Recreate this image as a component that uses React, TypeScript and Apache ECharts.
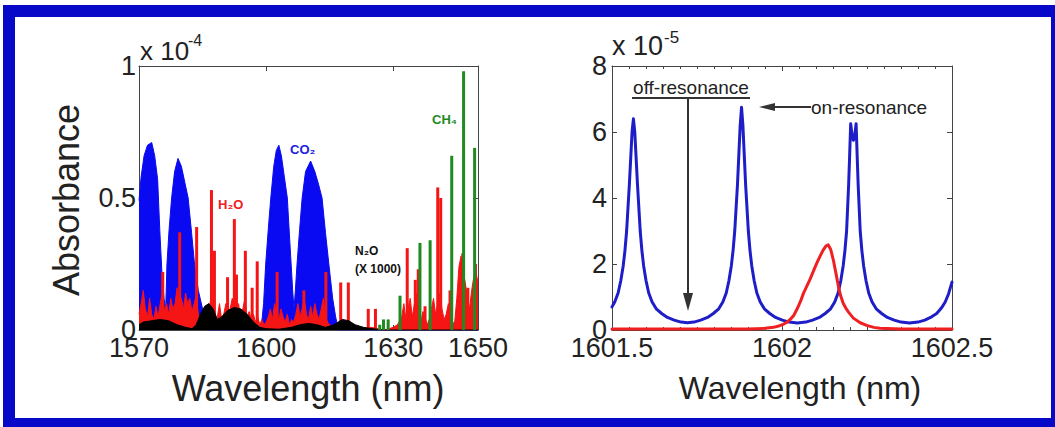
import React, { useEffect, useRef } from "react";
import * as echarts from "echarts";

// ---------- Left panel (x in nm, y in units of 1e-4) ----------
const leftXLabels = [1570, 1600, 1630, 1650];
const leftXInnerTicks = [1600, 1630];

const co2Envelope: [number, number][] = [
  [1570, 0.49], [1570.5, 0.58], [1571.2, 0.66], [1572, 0.7], [1573, 0.71], [1573.7, 0.66],
  [1574.4, 0.57], [1574.9, 0.38], [1575.4, 0.22], [1575.9, 0.12], [1576.3, 0.08],
  [1576.6, 0.25], [1577.1, 0.38], [1577.7, 0.5], [1578.4, 0.6], [1579.2, 0.65], [1580, 0.62],
  [1580.8, 0.56], [1581.6, 0.5], [1582.4, 0.37], [1583.1, 0.25], [1584, 0.15], [1585, 0.08],
  [1585.6, 0.02], [1586, 0],
  [1598.8, 0], [1599.4, 0.1], [1599.9, 0.25], [1600.5, 0.38], [1601.1, 0.5], [1601.8, 0.62],
  [1602.4, 0.68], [1603, 0.7], [1603.6, 0.66], [1604.3, 0.58], [1605, 0.5], [1605.5, 0.36],
  [1605.9, 0.25], [1606.3, 0.14], [1606.6, 0.08],
  [1606.9, 0.15], [1607.3, 0.25], [1607.9, 0.38], [1608.5, 0.5], [1609.3, 0.6], [1610.5, 0.64],
  [1611.5, 0.6], [1612.4, 0.55], [1613.2, 0.5], [1614, 0.37], [1614.8, 0.25], [1615.7, 0.12],
  [1616.4, 0.05], [1617.1, 0],
  [1643.8, 0], [1644.4, 0.03], [1645, 0], [1650, 0],
];

const h2oBase: [number, number][] = [
  [1570, 0.06], [1570.5, 0.1], [1571, 0.15], [1571.5, 0.08], [1572, 0.05], [1572.5, 0.12],
  [1573, 0.06], [1573.5, 0.04], [1574, 0.09], [1574.5, 0.05], [1575, 0.1], [1575.5, 0.14],
  [1576, 0.07], [1576.5, 0.1], [1577, 0.06], [1577.5, 0.12], [1578, 0.08], [1578.5, 0.1],
  [1579, 0.16], [1579.5, 0.09], [1580, 0.12], [1580.5, 0.08], [1581, 0.14], [1581.5, 0.1],
  [1582, 0.12], [1582.5, 0.07], [1583, 0.1], [1583.5, 0.13], [1584, 0.06], [1584.5, 0.04],
  [1585, 0.03], [1585.5, 0.02], [1586, 0.03], [1586.5, 0.08], [1587, 0.12], [1587.5, 0.06],
  [1588, 0.03], [1588.5, 0.05], [1589, 0.1], [1589.5, 0.04], [1590, 0.06], [1590.5, 0.1],
  [1591, 0.05], [1591.5, 0.08], [1592, 0.12], [1592.5, 0.09], [1593, 0.06], [1593.5, 0.1],
  [1594, 0.04], [1594.5, 0.08], [1595, 0.12], [1595.5, 0.05], [1596, 0.07], [1596.5, 0.04],
  [1597, 0.06], [1597.5, 0.03], [1598, 0.05], [1598.5, 0.02], [1599, 0.04], [1599.5, 0.02],
  [1600, 0.03], [1600.5, 0.05], [1601, 0.08], [1601.5, 0.04], [1602, 0.1], [1602.5, 0.06],
  [1603, 0.04], [1603.5, 0.08], [1604, 0.05], [1604.5, 0.03], [1605, 0.06], [1605.5, 0.02],
  [1606, 0.04], [1606.5, 0.03], [1607, 0.06], [1607.5, 0.1], [1608, 0.05], [1608.5, 0.08],
  [1609, 0.12], [1609.5, 0.06], [1610, 0.04], [1610.5, 0.09], [1611, 0.05], [1611.5, 0.1],
  [1612, 0.06], [1612.5, 0.04], [1613, 0.08], [1613.5, 0.12], [1614, 0.05], [1614.5, 0.03],
  [1615, 0.02], [1616, 0.01], [1617, 0.02], [1618, 0.01], [1619, 0.02], [1620, 0.005],
  [1622, 0.01], [1623, 0.005], [1625, 0.01], [1626, 0.005], [1628, 0], [1630, 0.01],
  [1631, 0.02], [1632, 0.05], [1632.5, 0.1], [1633, 0.04], [1633.5, 0.08], [1634, 0.12],
  [1634.5, 0.05], [1635, 0.1], [1635.5, 0.14], [1636, 0.06], [1636.5, 0.03], [1637, 0.07],
  [1637.5, 0.05], [1638, 0.02], [1638.5, 0.04], [1639, 0.08], [1639.5, 0.12], [1640, 0.06],
  [1640.5, 0.1], [1641, 0.14], [1641.5, 0.08], [1642, 0.04], [1642.5, 0.06], [1643, 0.1],
  [1643.5, 0.05], [1644, 0.02], [1644.5, 0.03], [1645, 0.12], [1645.5, 0.24], [1646, 0.28],
  [1646.5, 0.22], [1647, 0.18], [1647.5, 0.12], [1648, 0.08], [1648.5, 0.15], [1649, 0.2],
  [1649.5, 0.22], [1650, 0.18],
];

const h2oLines: [number, number][] = [
  [1575.6, 0.22], [1579.6, 0.37], [1583.6, 0.39], [1587.1, 0.53], [1587.8, 0.3],
  [1590.9, 0.2], [1592.5, 0.42], [1593.0, 0.21], [1595.1, 0.3], [1596.7, 0.16],
  [1597.9, 0.26], [1602.6, 0.22], [1608.9, 0.15], [1614.1, 0.22], [1617.6, 0.18],
  [1619.4, 0.18], [1624.1, 0.08], [1625.8, 0.08], [1633.3, 0.31], [1635.2, 0.19],
  [1635.9, 0.23], [1637.5, 0.09], [1640.5, 0.54], [1641.2, 0.5], [1643.4, 0.15],
  [1646.4, 0.29], [1647.6, 0.16], [1649.4, 0.25],
];

const n2oScaled: [number, number][] = [
  [1570, 0.02], [1571, 0.03], [1573, 0.035], [1575, 0.04], [1577, 0.035], [1579, 0.02],
  [1581, 0.01], [1582.5, 0.005], [1583.5, 0.02], [1584.5, 0.06], [1585.5, 0.09],
  [1586.5, 0.1], [1587.5, 0.08], [1588.5, 0.04], [1589.5, 0.05], [1591, 0.075],
  [1592.5, 0.085], [1594, 0.08], [1595.5, 0.06], [1597, 0.03], [1598.5, 0.01], [1600, 0.005],
  [1603, 0.003], [1606, 0.01], [1608, 0.02], [1610, 0.025], [1612, 0.02], [1614, 0.01],
  [1616, 0.02], [1618, 0.04], [1619.5, 0.035], [1621, 0.02], [1623, 0.01], [1625, 0.005],
  [1628, 0], [1650, 0],
];

const ch4Lines: [number, number][] = [
  [1626.8, 0.02], [1627.7, 0.04], [1628.8, 0.04], [1631.6, 0.13], [1636.3, 0.33],
  [1638.7, 0.34], [1643.8, 0.66], [1646.6, 0.98], [1649.2, 0.69],
];

// ---------- Right panel (x in nm, y in units of 1e-5) ----------
const rightXMin = 1601.5;
const rightXMax = 1602.5;

const resonatorBlue: [number, number][] = [
  [1601.5, 0.7], [1601.508, 0.85], [1601.518, 1.12], [1601.526, 1.5], [1601.533, 1.95],
  [1601.538, 2.4], [1601.543, 3.0], [1601.547, 3.7], [1601.551, 4.4], [1601.555, 5.2],
  [1601.559, 6.0], [1601.563, 6.4], [1601.567, 6.0], [1601.571, 5.2], [1601.575, 4.4],
  [1601.579, 3.7], [1601.583, 3.0], [1601.588, 2.4], [1601.593, 1.95], [1601.6, 1.5],
  [1601.608, 1.12], [1601.618, 0.85], [1601.631, 0.63], [1601.646, 0.5], [1601.663, 0.38],
  [1601.683, 0.3], [1601.703, 0.24], [1601.722, 0.22],
  [1601.741, 0.24], [1601.761, 0.3], [1601.781, 0.38], [1601.798, 0.5], [1601.813, 0.63],
  [1601.826, 0.85], [1601.836, 1.12], [1601.844, 1.5], [1601.851, 1.95], [1601.856, 2.4],
  [1601.861, 3.0], [1601.865, 3.7], [1601.869, 4.4], [1601.873, 5.3], [1601.877, 6.2],
  [1601.881, 6.75], [1601.885, 6.2], [1601.889, 5.3], [1601.893, 4.4], [1601.897, 3.7],
  [1601.901, 3.0], [1601.906, 2.4], [1601.911, 1.95], [1601.918, 1.5], [1601.926, 1.12],
  [1601.936, 0.85], [1601.949, 0.63], [1601.964, 0.5], [1601.981, 0.38], [1602.001, 0.3],
  [1602.021, 0.24], [1602.045, 0.21],
  [1602.07, 0.24], [1602.09, 0.3], [1602.11, 0.38], [1602.127, 0.5], [1602.142, 0.63],
  [1602.155, 0.85], [1602.165, 1.12], [1602.173, 1.5], [1602.18, 1.95], [1602.185, 2.4],
  [1602.19, 3.0], [1602.193, 3.7], [1602.196, 4.4], [1602.199, 5.3], [1602.202, 6.25],
  [1602.206, 5.9], [1602.21, 5.75], [1602.214, 5.9], [1602.218, 6.25], [1602.221, 5.3],
  [1602.224, 4.4], [1602.227, 3.7], [1602.23, 3.0], [1602.235, 2.4], [1602.24, 1.95],
  [1602.247, 1.5], [1602.255, 1.12], [1602.265, 0.85], [1602.278, 0.63], [1602.293, 0.5],
  [1602.31, 0.38], [1602.33, 0.3], [1602.35, 0.24], [1602.375, 0.21],
  [1602.4, 0.24], [1602.42, 0.3], [1602.44, 0.4], [1602.455, 0.5], [1602.47, 0.68],
  [1602.48, 0.85], [1602.49, 1.1], [1602.5, 1.45],
];

const co2LineRed: [number, number][] = [
  [1601.5, 0.03], [1601.9, 0.03], [1601.95, 0.05], [1601.975, 0.08], [1601.99, 0.12],
  [1602.005, 0.18], [1602.015, 0.24], [1602.024, 0.32], [1602.035, 0.45], [1602.045, 0.65],
  [1602.055, 0.88], [1602.063, 1.11], [1602.073, 1.33], [1602.083, 1.55], [1602.093, 1.8],
  [1602.102, 2.02], [1602.112, 2.24], [1602.121, 2.42], [1602.129, 2.54], [1602.136, 2.58],
  [1602.143, 2.45], [1602.151, 2.12], [1602.159, 1.7], [1602.166, 1.31], [1602.173, 1.02],
  [1602.18, 0.81], [1602.188, 0.66], [1602.195, 0.55], [1602.21, 0.36], [1602.23, 0.22],
  [1602.249, 0.14], [1602.27, 0.08], [1602.288, 0.05], [1602.35, 0.03], [1602.5, 0.03],
];

const FONT = "'Liberation Sans', Arial, sans-serif";
const AXIS_COLOR = "#444";
const TEXT_COLOR = "#222";
const FRAME_BLUE = "#0808c8";

const plainNumber = (v: number) => String(v);

function frameAxis(extra: any) {
  return {
    type: "value",
    axisLine: { show: true, onZero: false, lineStyle: { color: AXIS_COLOR, width: 1 } },
    axisTick: { show: true, inside: true, length: 5, lineStyle: { color: AXIS_COLOR } },
    splitLine: { show: false },
    axisLabel: { show: false },
    ...extra,
  };
}

const xLabelStyle = { fontSize: 27, color: TEXT_COLOR, fontFamily: FONT, formatter: plainNumber, lineHeight: 21, margin: 7 };
const yLabelStyle = { fontSize: 27, color: TEXT_COLOR, fontFamily: FONT, formatter: plainNumber, lineHeight: 12 };

export default function App() {
  const ref = useRef<HTMLDivElement>(null);
  useEffect(() => {
    const chart = echarts.init(ref.current!, null, { renderer: "svg" });
    const option: any = {
      animation: false,
      backgroundColor: "#ffffff",
      grid: [
        { left: 139, top: 66, width: 339, height: 264 },
        { left: 612, top: 66, width: 340, height: 264 },
      ],
      xAxis: [
        frameAxis({
          gridIndex: 0, min: 1570, max: 1650, position: "bottom",
          axisTick: { show: true, inside: true, length: 5, customValues: leftXInnerTicks, lineStyle: { color: AXIS_COLOR } },
          axisLabel: { show: true, customValues: leftXLabels, ...xLabelStyle },
        }),
        frameAxis({
          gridIndex: 0, min: 1570, max: 1650, position: "top",
          axisTick: { show: true, inside: true, length: 5, customValues: leftXInnerTicks, lineStyle: { color: AXIS_COLOR } },
        }),
        frameAxis({
          gridIndex: 1, min: rightXMin, max: rightXMax, interval: 0.5, position: "bottom",
          minorTick: { show: true, splitNumber: 10, length: 3, lineStyle: { color: AXIS_COLOR } },
          axisLabel: { show: true, ...xLabelStyle },
        }),
        frameAxis({
          gridIndex: 1, min: rightXMin, max: rightXMax, interval: 0.5, position: "top",
          minorTick: { show: true, splitNumber: 10, length: 3, lineStyle: { color: AXIS_COLOR } },
        }),
      ],
      yAxis: [
        frameAxis({
          gridIndex: 0, min: 0, max: 1, interval: 0.5, position: "left",
          axisLabel: { show: true, margin: 3, ...yLabelStyle },
        }),
        frameAxis({ gridIndex: 0, min: 0, max: 1, interval: 0.5, position: "right" }),
        frameAxis({
          gridIndex: 1, min: 0, max: 8, interval: 2, position: "left",
          axisLabel: { show: true, margin: 5, ...yLabelStyle },
        }),
        frameAxis({ gridIndex: 1, min: 0, max: 8, interval: 2, position: "right" }),
      ],
      series: [
        {
          name: "CO2", type: "line", xAxisIndex: 0, yAxisIndex: 0, data: co2Envelope,
          symbol: "none", silent: true, z: 2,
          lineStyle: { color: "#0a0af2", width: 1 },
          areaStyle: { color: "#0a0af2", opacity: 1 },
        },
        {
          name: "H2O base", type: "line", xAxisIndex: 0, yAxisIndex: 0, data: h2oBase,
          symbol: "none", silent: true, z: 3,
          lineStyle: { color: "#f51515", width: 1 },
          areaStyle: { color: "#f51515", opacity: 1 },
        },
        {
          name: "H2O", type: "bar", xAxisIndex: 0, yAxisIndex: 0, data: h2oLines,
          barWidth: 3, barGap: "-100%", silent: true, z: 4,
          itemStyle: { color: "#f51515" },
        },
        {
          name: "N2O", type: "line", xAxisIndex: 0, yAxisIndex: 0, data: n2oScaled,
          symbol: "none", silent: true, z: 5,
          lineStyle: { color: "#000", width: 1 },
          areaStyle: { color: "#000", opacity: 1 },
        },
        {
          name: "CH4", type: "bar", xAxisIndex: 0, yAxisIndex: 0, data: ch4Lines,
          barWidth: 3, barGap: "-100%", silent: true, z: 6,
          itemStyle: { color: "#1f8a1f" },
        },
        {
          name: "resonator", type: "line", xAxisIndex: 2, yAxisIndex: 2, data: resonatorBlue,
          symbol: "none", silent: true, z: 2,
          lineStyle: { color: "#1e1ec8", width: 3, cap: "round", join: "round" },
        },
        {
          name: "CO2 line", type: "line", xAxisIndex: 2, yAxisIndex: 2, data: co2LineRed,
          symbol: "none", silent: true, z: 3,
          lineStyle: { color: "#f02020", width: 3, cap: "round", join: "round" },
        },
      ],
      graphic: [
        // blue frame
        { type: "rect", shape: { x: 3, y: 5, width: 1052, height: 12 }, style: { fill: FRAME_BLUE }, silent: true },
        { type: "rect", shape: { x: 3, y: 5, width: 12, height: 422 }, style: { fill: FRAME_BLUE }, silent: true },
        { type: "rect", shape: { x: 3, y: 418, width: 1052, height: 9 }, style: { fill: FRAME_BLUE }, silent: true },
        { type: "rect", shape: { x: 1051, y: 5, width: 4, height: 422 }, style: { fill: FRAME_BLUE }, silent: true },
        // axis titles
        {
          type: "text", x: 66, y: 200, rotation: Math.PI / 2,
          style: { text: "Absorbance", fontSize: 36, fontFamily: FONT, fill: TEXT_COLOR, align: "center", verticalAlign: "middle" },
        },
        {
          type: "text", x: 308, y: 388,
          style: { text: "Wavelength (nm)", fontSize: 36, fontFamily: FONT, fill: TEXT_COLOR, align: "center", verticalAlign: "middle" },
        },
        {
          type: "text", x: 800, y: 388,
          style: { text: "Wavelength (nm)", fontSize: 32, fontFamily: FONT, fill: TEXT_COLOR, align: "center", verticalAlign: "middle" },
        },
        // exponent labels
        { type: "text", x: 140, y: 51, style: { text: "x 10", fontSize: 26, fontFamily: FONT, fill: TEXT_COLOR, align: "left", verticalAlign: "middle" } },
        { type: "text", x: 188, y: 40, style: { text: "-4", fontSize: 16, fontFamily: FONT, fill: TEXT_COLOR, align: "left", verticalAlign: "middle" } },
        { type: "text", x: 612, y: 46, style: { text: "x 10", fontSize: 27, fontFamily: FONT, fill: TEXT_COLOR, align: "left", verticalAlign: "middle" } },
        { type: "text", x: 664, y: 37, style: { text: "-5", fontSize: 17, fontFamily: FONT, fill: TEXT_COLOR, align: "left", verticalAlign: "middle" } },
        // species labels
        { type: "text", x: 290, y: 149, style: { text: "CO₂", fontSize: 13, fontWeight: "bold", fontFamily: FONT, fill: "#2020e0", align: "left", verticalAlign: "middle" } },
        { type: "text", x: 218, y: 204, style: { text: "H₂O", fontSize: 13, fontWeight: "bold", fontFamily: FONT, fill: "#f02020", align: "left", verticalAlign: "middle" } },
        { type: "text", x: 432, y: 119, style: { text: "CH₄", fontSize: 13, fontWeight: "bold", fontFamily: FONT, fill: "#1f8a1f", align: "left", verticalAlign: "middle" } },
        { type: "text", x: 355, y: 251, style: { text: "N₂O", fontSize: 12, fontWeight: "bold", fontFamily: FONT, fill: "#111", align: "left", verticalAlign: "middle" } },
        { type: "text", x: 355, y: 269, style: { text: "(X 1000)", fontSize: 12, fontWeight: "bold", fontFamily: FONT, fill: "#111", align: "left", verticalAlign: "middle" } },
        // off-resonance annotation
        { type: "text", x: 691, y: 87, style: { text: "off-resonance", fontSize: 19, fontFamily: FONT, fill: TEXT_COLOR, align: "center", verticalAlign: "middle" } },
        { type: "line", shape: { x1: 632, y1: 98, x2: 750, y2: 98 }, style: { stroke: "#333", lineWidth: 2 } },
        { type: "line", shape: { x1: 688, y1: 98, x2: 688, y2: 296 }, style: { stroke: "#333", lineWidth: 2 } },
        { type: "polygon", shape: { points: [[683, 293], [693, 293], [688, 311]] }, style: { fill: "#333" } },
        // on-resonance annotation
        { type: "text", x: 811, y: 107, style: { text: "on-resonance", fontSize: 19, fontFamily: FONT, fill: TEXT_COLOR, align: "left", verticalAlign: "middle" } },
        { type: "line", shape: { x1: 772, y1: 107, x2: 811, y2: 107 }, style: { stroke: "#333", lineWidth: 2 } },
        { type: "polygon", shape: { points: [[759, 107], [775, 103], [775, 111]] }, style: { fill: "#333" } },
      ],
    };
    chart.setOption(option);
    return () => chart.dispose();
  }, []);
  return (
    <div
      ref={ref}
      style={{ position: "fixed", left: 0, top: 0, width: 1055, height: 427, background: "#fff" }}
    />
  );
}
